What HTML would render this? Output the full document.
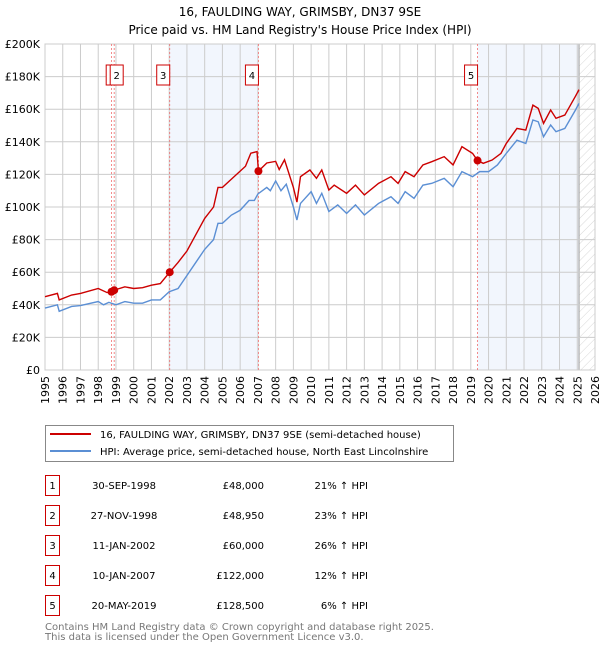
<!DOCTYPE html>
<html><head><meta charset="utf-8">
<style>
body{margin:0;background:#fff;font-family:"DejaVu Sans","Liberation Sans",sans-serif;}
svg text{font-family:"DejaVu Sans","Liberation Sans",sans-serif;}
</style></head>
<body>
<svg id="c" width="600" height="650" xmlns="http://www.w3.org/2000/svg">
<defs><pattern id="hatch" patternUnits="userSpaceOnUse" width="6" height="6" patternTransform="rotate(45)"><line x1="0" y1="0" x2="0" y2="6" stroke="#d8d8d8" stroke-width="1"/></pattern></defs>
<text x="300" y="16" text-anchor="middle" font-size="12">16, FAULDING WAY, GRIMSBY, DN37 9SE</text>
<text x="300" y="34" text-anchor="middle" font-size="12">Price paid vs. HM Land Registry's House Price Index (HPI)</text>
<g id="plot"></g>
<g>
<rect x="45.5" y="425.5" width="408" height="36" fill="#fff" stroke="#888"/>
<line x1="50" y1="434" x2="91" y2="434" stroke="#cc0000" stroke-width="2"/>
<text x="100" y="438" font-size="10">16, FAULDING WAY, GRIMSBY, DN37 9SE (semi-detached house)</text>
<line x1="50" y1="451" x2="91" y2="451" stroke="#5b8fd4" stroke-width="2"/>
<text x="100" y="455" font-size="10">HPI: Average price, semi-detached house, North East Lincolnshire</text>
</g>
<g id="table"></g>
<text x="45" y="630" font-size="10" fill="#777">Contains HM Land Registry data © Crown copyright and database right 2025.</text>
<text x="45" y="640" font-size="10" fill="#777">This data is licensed under the Open Government Licence v3.0.</text>
</svg>
<script>
const yearTicks=[1995,1996,1997,1998,1999,2000,2001,2002,2003,2004,2005,2006,2007,2008,2009,2010,2011,2012,2013,2014,2015,2016,2017,2018,2019,2020,2021,2022,2023,2024,2025,2026];
const valueTicks=[0,20000,40000,60000,80000,100000,120000,140000,160000,180000,200000];
const valueTickLabels=["£0","£20K","£40K","£60K","£80K","£100K","£120K","£140K","£160K","£180K","£200K"];
const priceYears=[1995,1995.7,1995.8,1996.5,1997,1998,1998.5,1998.75,1998.9,1999.5,2000,2000.5,2001,2001.5,2002.03,2002.5,2003,2003.5,2004,2004.5,2004.75,2005,2005.5,2006,2006.3,2006.6,2006.95,2007.03,2007.5,2008,2008.2,2008.5,2009,2009.2,2009.4,2009.93,2010.3,2010.6,2011,2011.3,2012,2012.5,2013,2013.8,2014.5,2014.9,2015.3,2015.8,2016.3,2016.8,2017.5,2018,2018.5,2019.1,2019.38,2019.7,2020.2,2020.7,2021,2021.6,2022.1,2022.5,2022.8,2023.1,2023.5,2023.8,2024.3,2024.9,2025.1];
const priceValues=[45000,47000,43000,46000,47000,50000,47500,48000,49000,51000,50000,50500,52000,53000,60000,66000,73000,83000,93000,100000,112000,112000,117000,122000,125000,133000,134000,122000,127000,128000,123000,129000,112000,103000,118600,122700,117600,122700,110400,113400,108400,113400,107400,114500,118600,114500,121700,118600,125800,127800,130900,125800,137000,132900,128500,126800,128800,132900,139000,148200,147200,162500,160500,151300,159500,154400,156400,168000,172000];
const hpiYears=[1995,1995.7,1995.8,1996.5,1997,1998,1998.3,1998.6,1999,1999.5,2000,2000.5,2001,2001.5,2002,2002.5,2003,2003.5,2004,2004.5,2004.75,2005,2005.5,2006,2006.5,2006.8,2007,2007.5,2007.7,2008,2008.3,2008.6,2009,2009.2,2009.4,2010,2010.3,2010.6,2011,2011.5,2012,2012.5,2013,2013.8,2014.5,2014.9,2015.3,2015.8,2016.3,2016.8,2017.5,2018,2018.5,2019.1,2019.5,2020,2020.5,2021,2021.6,2022.1,2022.5,2022.8,2023.1,2023.5,2023.8,2024.3,2024.9,2025.1];
const hpiValues=[38000,40000,36000,39000,39500,42000,40000,41500,40000,42000,41000,41000,43000,43000,48000,50000,58000,66000,74000,80000,90000,90000,95000,98000,104000,104000,108000,112000,110000,116000,110000,114000,100000,92000,102200,109400,102200,108400,97200,101300,96100,101300,95100,102200,106300,102200,109400,105300,113400,114500,117600,112400,121700,118600,121700,121700,125800,132900,141000,139000,153400,152300,143100,150300,146200,148200,159500,163600];
const saleIds=["1","2","3","4","5"];
const saleYears=[1998.75,1998.9,2002.03,2007.03,2019.38];
const saleValues=[48000,48950,60000,122000,128500];
const saleDates=["30-SEP-1998","27-NOV-1998","11-JAN-2002","10-JAN-2007","20-MAY-2019"];
const salePrices=["£48,000","£48,950","£60,000","£122,000","£128,500"];
const saleDiffs=["21% ↑ HPI","23% ↑ HPI","26% ↑ HPI","12% ↑ HPI","6% ↑ HPI"];
const shadeRanges=[[2002.03,2007.03],[2019.38,2025.1]];
const futureStart=2025.1;

const NS="http://www.w3.org/2000/svg";
const X0=45,X1=595,Y0=370,Y1=44;
const x=y=>X0+(y-1995)/(2026-1995)*(X1-X0);
const yv=v=>Y0-v/200000*(Y0-Y1);
const plot=document.getElementById('plot');
function mk(tag,attrs,parent){const e=document.createElementNS(NS,tag);for(const k in attrs)e.setAttribute(k,attrs[k]);(parent||plot).appendChild(e);return e;}

shadeRanges.forEach(r=>{const e=mk('rect',{x:x(r[0]),y:Y1,width:x(r[1])-x(r[0]),height:Y0-Y1,fill:'#f2f6fd'});

});
const hz=mk('rect',{x:x(futureStart),y:Y1,width:X1-x(futureStart),height:Y0-Y1,fill:'url(#hatch)'});


mk('line',{x1:x(futureStart),y1:Y1,x2:x(futureStart),y2:Y0,stroke:'#999','stroke-width':1});

yearTicks.forEach(t=>{mk('line',{x1:x(t),y1:Y1,x2:x(t),y2:Y0,stroke:'#ccc','stroke-width':1});
const tx=mk('text',{x:0,y:0,'font-size':11,'text-anchor':'end',transform:`translate(${x(t)+4},${Y0+6}) rotate(-90)`});tx.textContent=t;

});
valueTicks.forEach((v,i)=>{mk('line',{x1:X0,y1:yv(v),x2:X1,y2:yv(v),stroke:'#ccc','stroke-width':1});
const tx=mk('text',{x:X0-5,y:yv(v)+4,'font-size':11,'text-anchor':'end'});tx.textContent=valueTickLabels[i];

});
mk('rect',{x:X0,y:Y1,width:X1-X0,height:Y0-Y1,fill:'none',stroke:'#ccc'});

saleYears.forEach((s,i)=>{mk('line',{x1:x(s),y1:Y1,x2:x(s),y2:Y0,stroke:'#f07070','stroke-width':0.8,'stroke-dasharray':'2,2'});});
const line=(xs,vs,c,n)=>{const p=mk('polyline',{points:xs.map((t,i)=>x(t)+','+yv(vs[i])).join(' '),fill:'none',stroke:c,'stroke-width':1.4});

};
line(hpiYears,hpiValues,'#5b8fd4','hpi-line');
line(priceYears,priceValues,'#cc0000','price-paid-line');
saleYears.forEach((s,i)=>{const c=mk('circle',{cx:x(s),cy:yv(saleValues[i]),r:4,fill:'#cc0000'});


if(i===0)return;
const bx=i===1?x(s)-4:x(s)-13;
const g=mk('g',{});


if(i===1)mk('rect',{x:bx-4,y:65,width:13,height:20,fill:'#fff',stroke:'#cc0000'},g);
mk('rect',{x:bx,y:65,width:13,height:20,fill:'#fff',stroke:'#cc0000'},g);
const t=mk('text',{x:bx+6.5,y:79,'font-size':10,'text-anchor':'middle'},g);t.textContent=saleIds[i];});

const tb=document.getElementById('table');
saleIds.forEach((id,i)=>{const yy=483+i*30;
const g=mk('g',{},tb);


mk('rect',{x:45.5,y:yy-7.5,width:14,height:20,fill:'#fff',stroke:'#cc0000'},g);
let t=mk('text',{x:52.5,y:yy+6,'font-size':10,'text-anchor':'middle'},g);t.textContent=id;
t=mk('text',{x:124,y:yy+6,'font-size':10,'text-anchor':'middle'},g);t.textContent=saleDates[i];
t=mk('text',{x:264,y:yy+6,'font-size':10,'text-anchor':'end'},g);t.textContent=salePrices[i];
t=mk('text',{x:368,y:yy+6,'font-size':10,'text-anchor':'end'},g);t.textContent=saleDiffs[i];});
</script>
</body></html>
